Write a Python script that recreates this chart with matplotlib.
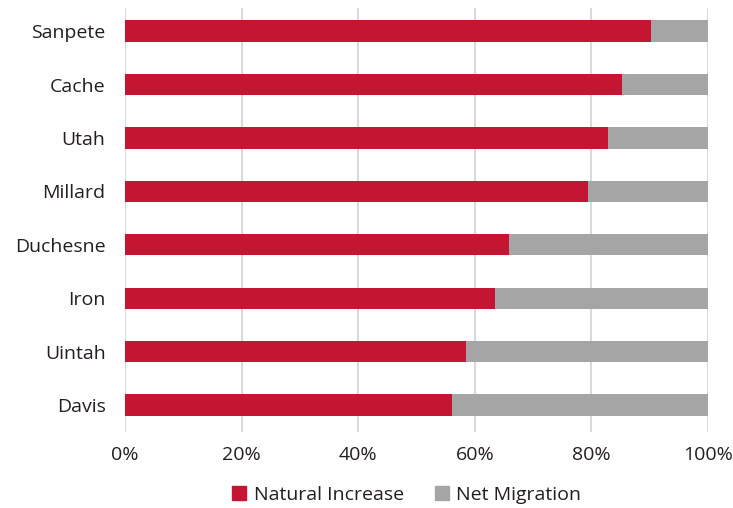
import numpy as np
import matplotlib.pyplot as plt
from matplotlib.patches import Patch

counties = ["Sanpete", "Cache", "Utah", "Millard", "Duchesne", "Iron", "Uintah", "Davis"]
natural_increase = [90.2, 85.3, 82.9, 79.4, 65.8, 63.4, 58.4, 56.1]
net_migration = [100 - v for v in natural_increase]

red = "#c41633"
grey = "#a5a5a5"
text_col = "#231f20"

plt.rcParams['font.family'] = ['Open Sans', 'DejaVu Sans']

fig = plt.figure(figsize=(7.33, 5.08), dpi=100)
ax = fig.add_axes([0.1705, 0.150, 0.7955, 0.834])

y = np.arange(len(counties))
ax.barh(y, natural_increase, height=0.4, color=red, zorder=3)
ax.barh(y, net_migration, left=natural_increase, height=0.4, color=grey, zorder=3)

ax.set_xlim(0, 100)
ax.set_ylim(len(counties) - 0.5, -0.43)
ax.set_yticks(y)
ax.set_yticklabels(counties, fontsize=14, color=text_col)
ax.set_xticks(np.arange(0, 101, 20))
ax.set_xticklabels([f"{v}%" for v in range(0, 101, 20)], fontsize=14, color=text_col)
ax.tick_params(axis='both', length=0)
ax.tick_params(axis='x', pad=10)
ax.tick_params(axis='y', pad=14)
ax.grid(axis='x', color="#d9d9d9", linewidth=1.5, zorder=0)
for s in ax.spines.values():
    s.set_visible(False)

handles = [Patch(color=red, label="Natural Increase"), Patch(color=grey, label="Net Migration")]
fig.legend(handles=handles, loc='center', bbox_to_anchor=(0.555, 0.026), ncol=2, frameon=False,
           fontsize=14, handlelength=0.7, handleheight=0.7, handletextpad=0.4, columnspacing=1.6,
           labelcolor=text_col)

fig.savefig("out.png", dpi=100)
